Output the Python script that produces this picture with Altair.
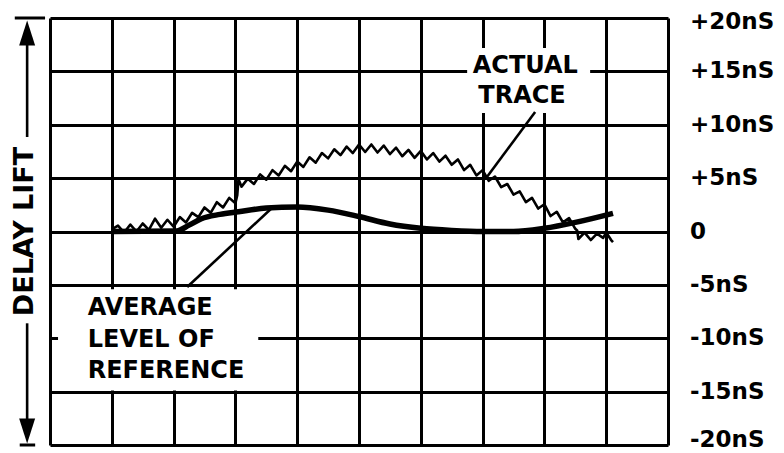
import altair as alt
import pandas as pd

# ---- data (x in graticule divisions, y in nS) ----
trace_x = [1.00, 1.10, 1.20, 1.30, 1.40, 1.50, 1.60, 1.70, 1.80, 1.90, 2.00, 2.10, 2.20, 2.30,
           2.40, 2.50, 2.60, 2.70, 2.80, 2.90, 3.00, 3.03, 3.05, 3.10, 3.20, 3.30, 3.40, 3.50,
           3.60, 3.70, 3.80, 3.90, 4.00, 4.10, 4.20, 4.30, 4.40, 4.50, 4.60, 4.70, 4.80, 4.90,
           5.00, 5.10, 5.20, 5.30, 5.40, 5.50, 5.60, 5.70, 5.80, 5.90, 6.00, 6.10, 6.20, 6.30,
           6.40, 6.50, 6.60, 6.70, 6.80, 6.90, 7.00, 7.10, 7.20, 7.30, 7.40, 7.50, 7.60, 7.70,
           7.80, 7.90, 8.00, 8.10, 8.20, 8.30, 8.40, 8.50, 8.53, 8.55, 8.65, 8.75, 8.85, 8.95,
           9.00, 9.08, 9.11]
trace_y = [0.20, 0.55, -0.10, 0.65, 0.00, 0.75, 0.15, 1.20, 0.35, 1.10, 0.45, 1.35, 0.85, 1.75,
           1.35, 2.25, 1.75, 2.75, 2.25, 3.15, 2.65, 3.40, 4.90, 4.20, 4.95, 4.45, 5.35, 4.85,
           5.75, 5.25, 6.15, 5.65, 6.55, 6.05, 6.95, 6.45, 7.35, 6.85, 7.70, 7.15, 7.95, 7.35,
           8.15, 7.45, 8.15, 7.40, 8.05, 7.25, 7.85, 7.05, 7.65, 6.90, 7.55, 6.75, 7.35, 6.55,
           7.10, 6.25, 6.75, 5.75, 6.25, 5.25, 5.75, 4.75, 5.15, 4.15, 4.45, 3.45, 3.75, 2.75,
           3.15, 2.15, 2.55, 1.45, 1.85, 0.85, 1.25, 0.25, 0.10, -0.70, -0.10, -0.80, -0.20, -0.60,
           -0.10, -0.80, -1.00]

avg_x = [1.02, 2.05, 2.25, 2.45, 2.75, 3.05, 3.50, 4.00, 4.50, 5.00, 5.50, 6.00, 6.50,
         7.00, 7.50, 8.00, 8.50, 9.11]
avg_y = [0.0, 0.05, 0.6, 1.2, 1.6, 1.85, 2.2, 2.3, 2.0, 1.4, 0.7, 0.3, 0.1,
         0.0, 0.0, 0.3, 0.85, 1.7]

x_grid = [0, 1, 2, 3, 4, 5, 6, 7, 8, 9, 10]
y_grid = [20, 15, 10, 5, 0, -5, -10, -15, -20]
y_labels = ["+20nS", "+15nS", "+10nS", "+5nS", "0", "-5nS", "-10nS", "-15nS", "-20nS"]
y_label_pos = [19.6, 15, 10, 5, 0, -5, -10, -15, -19.5]

ann_text = ["ACTUAL", "TRACE", "AVERAGE", "LEVEL OF", "REFERENCE"]
ann_x = [6.84, 6.93, 0.61, 0.61, 0.61]
ann_y = [15.5, 12.7, -7.2, -10.2, -13.1]

# white gaps in the graticule behind the captions
mask_x = [6.75, 0.13]
mask_x2 = [8.74, 3.37]
mask_y = [17.2, -5.4]
mask_y2 = [11.1, -14.9]

# leader lines from captions to curves
lead_x = [7.85, 2.22]
lead_x2 = [7.07, 3.59]
lead_y = [11.2, -5.2]
lead_y2 = [5.1, 2.2]

# left "DELAY LIFT" dimension arrow
arrow_x = -0.37
shaft_y = [17.6, -8.6]
shaft_y2 = [8.85, -17.8]
bar_x = [-0.57, -0.49]
bar_x2 = [-0.08, -0.24]
bar_y = [20, -20]
head_y = [18.6, -18.7]
head_shape = ["M0,-1L0.64,1L-0.64,1Z", "M0,1L0.64,-1L-0.64,-1Z"]

FONT = "DejaVu Sans"

xs = alt.Scale(domain=[0, 10], nice=False, zero=False)
ys = alt.Scale(domain=[-20, 20], nice=False, zero=False)

x_axis = alt.Axis(values=x_grid, grid=True, labels=False, ticks=False, domain=False,
                  title=None, gridColor="black", gridWidth=3, gridOpacity=1)
y_axis = alt.Axis(values=y_grid, grid=True, labels=False, ticks=False, domain=False,
                  title=None, gridColor="black", gridWidth=3, gridOpacity=1)

trace_df = pd.DataFrame({"x": trace_x, "y": trace_y})
avg_df = pd.DataFrame({"x": avg_x, "y": avg_y})

trace = alt.Chart(trace_df).mark_line(color="black", strokeWidth=2.6, strokeJoin="round").encode(
    x=alt.X("x:Q", scale=xs, axis=x_axis),
    y=alt.Y("y:Q", scale=ys, axis=y_axis),
    order="x:Q",
)

avg = alt.Chart(avg_df).mark_line(color="black", strokeWidth=5.5, interpolate="monotone").encode(
    x=alt.X("x:Q", scale=xs), y=alt.Y("y:Q", scale=ys), order="x:Q"
)

mask_df = pd.DataFrame({"x": mask_x, "x2": mask_x2, "y": mask_y, "y2": mask_y2})
masks = alt.Chart(mask_df).mark_rect(fill="white").encode(
    x=alt.X("x:Q", scale=xs), x2="x2:Q", y=alt.Y("y:Q", scale=ys), y2="y2:Q"
)

lead_df = pd.DataFrame({"x": lead_x, "x2": lead_x2, "y": lead_y, "y2": lead_y2})
leads = alt.Chart(lead_df).mark_rule(color="black", strokeWidth=2.6).encode(
    x=alt.X("x:Q", scale=xs), x2="x2:Q", y=alt.Y("y:Q", scale=ys), y2="y2:Q"
)

ann_df = pd.DataFrame({"x": ann_x, "y": ann_y, "t": ann_text})
ann = alt.Chart(ann_df).mark_text(font=FONT, fontSize=24, fontWeight="bold", align="left",
                                  baseline="middle", color="black").encode(
    x=alt.X("x:Q", scale=xs), y=alt.Y("y:Q", scale=ys), text="t:N"
)

lab_df = pd.DataFrame({"y": y_label_pos, "t": y_labels})
labels = alt.Chart(lab_df).mark_text(font=FONT, fontSize=23, fontWeight="bold", align="left",
                                     baseline="middle", color="black", dx=22).encode(
    x=alt.value(618), y=alt.Y("y:Q", scale=ys), text="t:N"
)

shaft_df = pd.DataFrame({"y": shaft_y, "y2": shaft_y2, "x": [arrow_x, arrow_x]})
shafts = alt.Chart(shaft_df).mark_rule(color="black", strokeWidth=2.6).encode(
    x=alt.X("x:Q", scale=xs), y=alt.Y("y:Q", scale=ys), y2="y2:Q"
)

bar_df = pd.DataFrame({"x": bar_x, "x2": bar_x2, "y": bar_y})
bars = alt.Chart(bar_df).mark_rule(color="black", strokeWidth=3).encode(
    x=alt.X("x:Q", scale=xs), x2="x2:Q", y=alt.Y("y:Q", scale=ys)
)

head_df = pd.DataFrame({"x": [arrow_x, arrow_x], "y": head_y, "s": head_shape})
heads = alt.Chart(head_df).mark_point(filled=True, color="black", size=625, opacity=1).encode(
    x=alt.X("x:Q", scale=xs), y=alt.Y("y:Q", scale=ys),
    shape=alt.Shape("s:N", scale=None, legend=None),
)

side_df = pd.DataFrame({"x": [-0.40], "y": [0.0], "t": ["DELAY LIFT"]})
side = alt.Chart(side_df).mark_text(font=FONT, fontSize=27, fontWeight="bold", angle=270,
                                    align="center", baseline="middle", color="black").encode(
    x=alt.X("x:Q", scale=xs), y=alt.Y("y:Q", scale=ys), text="t:N"
)

chart = alt.layer(trace, masks, avg, leads, ann, labels, shafts, bars, heads, side).properties(
    width=618,
    height=427,
    autosize=alt.AutoSizeParams(type="none"),
    padding={"left": 42, "top": 10, "right": 108, "bottom": 8},
).configure_view(stroke="black", strokeWidth=3).configure(background="white")

chart.save("out.html", embed_options={"renderer": "svg", "actions": False})
